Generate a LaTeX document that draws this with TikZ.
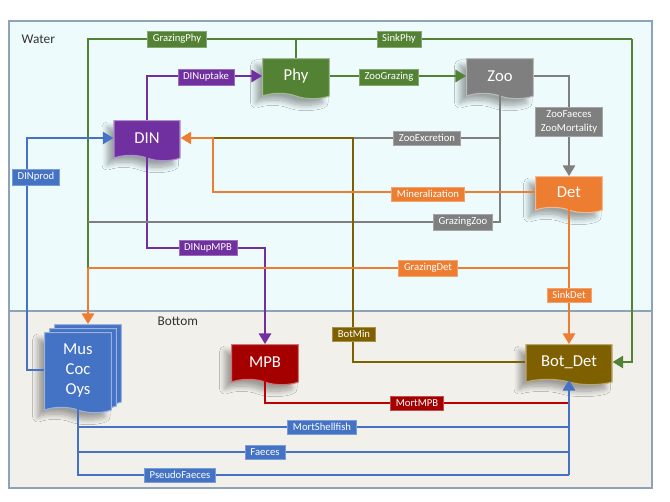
\documentclass[tikz,border=0pt]{standalone}
\usepackage{fontspec}
\setmainfont{Carlito}
\usetikzlibrary{shapes.symbols,shadows,shadows.blur,arrows.meta,calc}
\definecolor{waterbg}{HTML}{EEFBFC}
\definecolor{bottombg}{HTML}{F2F0EB}
\definecolor{framecol}{HTML}{8EA3B8}
\definecolor{phycol}{HTML}{548235}
\definecolor{dincol}{HTML}{7030A0}
\definecolor{zoocol}{HTML}{7F7F7F}
\definecolor{detcol}{HTML}{ED7D31}
\definecolor{muscol}{HTML}{4472C4}
\definecolor{mpbcol}{HTML}{A50000}
\definecolor{mpbline}{HTML}{C00000}
\definecolor{botcol}{HTML}{7F6000}
\begin{document}
\begin{tikzpicture}[x=0.75pt, y=-0.75pt,
            pool/.style={shape=tape, tape bend top=none, tape bend bottom=out and in,
              tape bend height=4pt, fill=#1, draw=#1!55!white, line width=0.8pt,
              text=white, font=\fontsize{12.5}{15}\selectfont, inner sep=0pt,
              minimum width=50pt, minimum height=30pt,
              blur shadow={shadow xshift=-5pt, shadow yshift=-5pt, shadow blur radius=4pt,
                shadow blur steps=10, shadow opacity=35}},
            flux/.style={draw=#1, line width=2pt},
            arrowed/.style={-{Triangle[width=9pt,length=8pt]}},
            fluxlabel/.style={fill=#1, draw=#1!70!white, line width=0.4pt, text=white,
              font=\fontsize{8}{10}\selectfont, inner xsep=4pt, inner ysep=2.5pt, align=center},
            zonelabel/.style={font=\fontsize{10}{12}\selectfont, text=black!80, anchor=west}]
            \useasboundingbox (0,0) rectangle (670,502);
            \fill[waterbg] (9,21) rectangle (652,311);
            \fill[bottombg] (9,311) rectangle (652,488);
            \draw[framecol, line width=0.8pt] (9,21) rectangle (652,488);
            \draw[framecol, line width=0.8pt] (9,311) -- (652,311);
            \node[zonelabel] (water) at (17,39) {Water};
            \node[zonelabel] (bottom) at (153,321) {Bottom};
            \node[pool=phycol] (Phy) at (296,76) {Phy};
            \node[pool=dincol, minimum width=49.5pt] (DIN) at (147,138) {DIN};
            \node[pool=zoocol] (Zoo) at (500,76) {Zoo};
            \node[pool=detcol, minimum height=27pt] (Det) at (569,192) {Det};
            \node[pool=mpbcol] (MPB) at (265,362) {MPB};
            \node[pool=botcol, minimum width=64.5pt] (Bot_Det) at (569,362) {Bot\_Det};
            \node[pool=muscol, minimum height=60pt, align=center,
              copy shadow={shadow xshift=7.5pt, shadow yshift=6pt, fill=muscol, draw=muscol!55!white, line width=0.8pt},
              copy shadow={shadow xshift=3.75pt, shadow yshift=3pt, fill=muscol, draw=muscol!55!white, line width=0.8pt}]
              (Mus) at (78,370) {Mus\\Coc\\Oys};
            \coordinate (topL) at (88,39);
            \coordinate (topR) at (632,39);
            \coordinate (grazJ) at (88,268);
            \coordinate (zooJ) at (500,222);
            \coordinate (minJ) at (353,138);
            \coordinate (minK) at (213,138);
            \coordinate (detJ) at (569,268);
            \coordinate (upJ) at (147,248);
            \coordinate (prodJ) at (27,250);
            \coordinate (mortY) at (0,403);
            \coordinate (shellY) at (0,427);
            \coordinate (faecY) at (0,452);
            \coordinate (pseudoY) at (0,475);
            \draw[flux=phycol] (Phy.north) -- (Phy.north |- topL);
            \draw[flux=phycol] (grazJ) -- (topL) -- (topR);
            \draw[flux=phycol, arrowed] (topR) |- (Bot_Det.east);
            \draw[flux=phycol, arrowed] (Phy.east) -- (Zoo.west);
            \draw[flux=dincol, arrowed] (DIN.north) |- (Phy.west);
            \draw[flux=dincol, arrowed] (DIN.south) -- (upJ) -| (MPB.north);
            \draw[flux=zoocol, arrowed] (Zoo.east) -| (Det.north);
            \draw[flux=zoocol] (Zoo.south) -- (zooJ) -- (zooJ -| grazJ);
            \draw[flux=zoocol] (Zoo.south |- minJ) -- (minJ);
            \draw[flux=botcol] (Bot_Det.west) -| (minJ) -- (minK);
            \draw[flux=detcol, arrowed] (Det.west) -| (minK) -- (DIN.east);
            \draw[flux=detcol] (Det.south) -- (detJ) -- (grazJ);
            \draw[flux=detcol, arrowed] (grazJ) -- ($(grazJ |- Mus.north)+(0,-8)$);
            \draw[flux=detcol, arrowed] (detJ) -- (Bot_Det.north);
            \draw[flux=muscol, arrowed] (Mus.west) -| (prodJ) |- (DIN.west);
            \draw[flux=mpbline] (MPB.south) |- (mortY -| Bot_Det.south);
            \draw[flux=muscol] (Mus.south) |- (pseudoY -| Bot_Det.south);
            \draw[flux=muscol] (Mus.south |- shellY) -- (shellY -| Bot_Det.south);
            \draw[flux=muscol] (Mus.south |- faecY) -- (faecY -| Bot_Det.south);
            \draw[flux=muscol, arrowed] (pseudoY -| Bot_Det.south) -- (Bot_Det.south);
            \node[fluxlabel=phycol] (lGrazingPhy) at (177,39) {GrazingPhy};
            \node[fluxlabel=phycol] (lSinkPhy) at (399,39) {SinkPhy};
            \node[fluxlabel=dincol] (lDINuptake) at (206,77) {DINuptake};
            \node[fluxlabel=phycol] (lZooGrazing) at (389,77) {ZooGrazing};
            \node[fluxlabel=zoocol] (lZooFaeces) at (569,122) {ZooFaeces\\ZooMortality};
            \node[fluxlabel=zoocol] (lZooExcretion) at (427,138) {ZooExcretion};
            \node[fluxlabel=detcol] (lMineralization) at (428,194) {Mineralization};
            \node[fluxlabel=zoocol] (lGrazingZoo) at (463,222) {GrazingZoo};
            \node[fluxlabel=muscol] (lDINprod) at (36,177) {DINprod};
            \node[fluxlabel=dincol] (lDINupMPB) at (208,248) {DINupMPB};
            \node[fluxlabel=detcol] (lGrazingDet) at (428,268) {GrazingDet};
            \node[fluxlabel=detcol] (lSinkDet) at (569,295) {SinkDet};
            \node[fluxlabel=botcol] (lBotMin) at (354,334) {BotMin};
            \node[fluxlabel=mpbcol] (lMortMPB) at (417,403) {MortMPB};
            \node[fluxlabel=muscol] (lMortShellfish) at (322,427) {MortShellfish};
            \node[fluxlabel=muscol] (lFaeces) at (265,452) {Faeces};
            \node[fluxlabel=muscol] (lPseudoFaeces) at (180,475) {PseudoFaeces};
\end{tikzpicture}
\end{document}
